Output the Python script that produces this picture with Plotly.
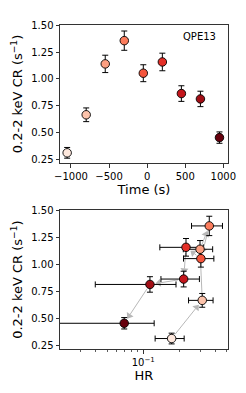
import plotly.graph_objects as go
import numpy as np

# Data
time_s = [-1050, -800, -550, -300, -50, 200, 450, 700, 950]
count_rate = [0.31, 0.665, 1.14, 1.357, 1.053, 1.158, 0.863, 0.813, 0.452]
count_rate_err = [0.05, 0.064, 0.081, 0.09, 0.079, 0.082, 0.073, 0.072, 0.053]
hr = [0.1726, 0.311, 0.298, 0.356, 0.303, 0.2275, 0.2175, 0.1137, 0.0693]
hr_err = [0.047, 0.072, 0.082, 0.103, 0.086, 0.090, 0.077, 0.074, 0.054]
colors = ['#fee8dd', '#fcc3ab', '#fc9f81', '#fb7c5c', '#f5553c',
          '#e32f27', '#c4161c', '#a10e15', '#67000d']
y_ticks = [0.25, 0.50, 0.75, 1.00, 1.25, 1.50]
x_ticks_time = [-1000, -500, 0, 500, 1000]
label = "QPE13"

FONT = "DejaVu Sans"
W, H = 246, 393
xdom = [60 / W, 228 / W]
ydom_top = [1 - 163 / H, 1 - 25 / H]
ydom_bot = [1 - 349.3 / H, 1 - 210 / H]
xr_top = [-1144, 1062]
yr_top = [0.215, 1.503]
xr_bot = [-1.696, -0.292]   # log10 range
yr_bot = [0.21, 1.505]

fig = go.Figure()

marker = dict(size=8.5, color=colors, line=dict(color='black', width=0.9))
errstyle = dict(type='data', color='black', thickness=1, width=3)

fig.add_trace(go.Scatter(
    x=time_s, y=count_rate, mode='markers', marker=marker,
    error_y=dict(array=count_rate_err, **errstyle),
    xaxis='x', yaxis='y', showlegend=False))

# pixel scale of the bottom panel, used to shrink arrows away from the markers
px_w = (xdom[1] - xdom[0]) * W
px_h = (ydom_bot[1] - ydom_bot[0]) * H
sx = px_w / (xr_bot[1] - xr_bot[0])   # px per decade
sy = px_h / (yr_bot[1] - yr_bot[0])   # px per unit
arrow_col = 'rgba(175,175,175,0.9)'
lx = np.log10(hr)
for i in range(len(hr) - 1):
    p0 = np.array([lx[i] * sx, count_rate[i] * sy])
    p1 = np.array([lx[i + 1] * sx, count_rate[i + 1] * sy])
    d = p1 - p0
    u = d / np.hypot(*d)
    start = p0 + u * 5.5
    tip = p1 - u * 5.5
    head_c = tip - u * 3.5
    line_end = tip - u * 5
    fig.add_trace(go.Scatter(
        x=[10 ** (start[0] / sx), 10 ** (line_end[0] / sx)],
        y=[start[1] / sy, line_end[1] / sy],
        mode='lines', line=dict(color=arrow_col, width=1),
        xaxis='x2', yaxis='y2', showlegend=False, hoverinfo='skip'))
    ang = np.degrees(np.arctan2(u[0], u[1]))
    fig.add_trace(go.Scatter(
        x=[10 ** (head_c[0] / sx)], y=[head_c[1] / sy],
        mode='markers', marker=dict(symbol='triangle-up', size=7, angle=ang,
                                    color=arrow_col, line=dict(width=0)),
        xaxis='x2', yaxis='y2', showlegend=False, hoverinfo='skip'))

hr_lo = [min(e, h - 1e-4) for h, e in zip(hr, hr_err)]
fig.add_trace(go.Scatter(
    x=hr, y=count_rate, mode='markers', marker=marker,
    error_y=dict(array=count_rate_err, **errstyle),
    error_x=dict(array=hr_err, arrayminus=hr_lo, symmetric=False, **errstyle),
    xaxis='x2', yaxis='y2', showlegend=False))

annotations = [dict(
    text=label, xref='x domain', yref='y domain', x=0.94, y=0.92,
    xanchor='right', yanchor='middle', showarrow=False,
    font=dict(family=FONT, size=10, color='black'))]

axis_common = dict(
    showline=True, linecolor='#333333', linewidth=1, mirror=True,
    ticks='outside', ticklen=3.5, tickwidth=1, tickcolor='#333333',
    showgrid=False, zeroline=False, automargin=False,
    tickfont=dict(family=FONT, size=10, color='black'),
)
ytitle = '0.2-2 keV CR (s<sup>\u22121</sup>)'

fig.update_layout(
    width=W, height=H,
    margin=dict(l=0, r=0, t=0, b=0, pad=0),
    paper_bgcolor='white', plot_bgcolor='white',
    font=dict(family=FONT, color='black'),
    hovermode=False,
    xaxis=dict(domain=xdom, anchor='y', range=xr_top,
               tickvals=x_ticks_time, ticktext=['\u22121000', '\u2212500', '0', '500', '1000'],
               title=dict(text='Time (s)', font=dict(family=FONT, size=13), standoff=4),
               **axis_common),
    yaxis=dict(domain=ydom_top, anchor='x', range=yr_top,
               tickvals=y_ticks, ticktext=[f'{v:.2f}' for v in y_ticks],
               title=dict(text=ytitle, font=dict(family=FONT, size=13), standoff=5),
               **axis_common),
    xaxis2=dict(domain=xdom, anchor='y2', type='log', range=xr_bot,
                tickvals=[0.1], ticktext=['10<sup>\u22121</sup>'],
                minor=dict(ticks='outside', ticklen=2, tickwidth=0.8, tickcolor='#333333',
                           tickvals=[0.03, 0.04, 0.05, 0.06, 0.07, 0.08, 0.09, 0.2, 0.3, 0.4, 0.5]),
                title=dict(text='HR', font=dict(family=FONT, size=13), standoff=4),
                **axis_common),
    yaxis2=dict(domain=ydom_bot, anchor='x2', range=yr_bot,
                tickvals=y_ticks, ticktext=[f'{v:.2f}' for v in y_ticks],
                title=dict(text=ytitle, font=dict(family=FONT, size=13), standoff=5),
                **axis_common),
    annotations=annotations,
)

fig.write_html("out.html", config={'displayModeBar': False, 'staticPlot': True},
               post_script="document.body.style.margin='0';document.body.style.padding='0';")
